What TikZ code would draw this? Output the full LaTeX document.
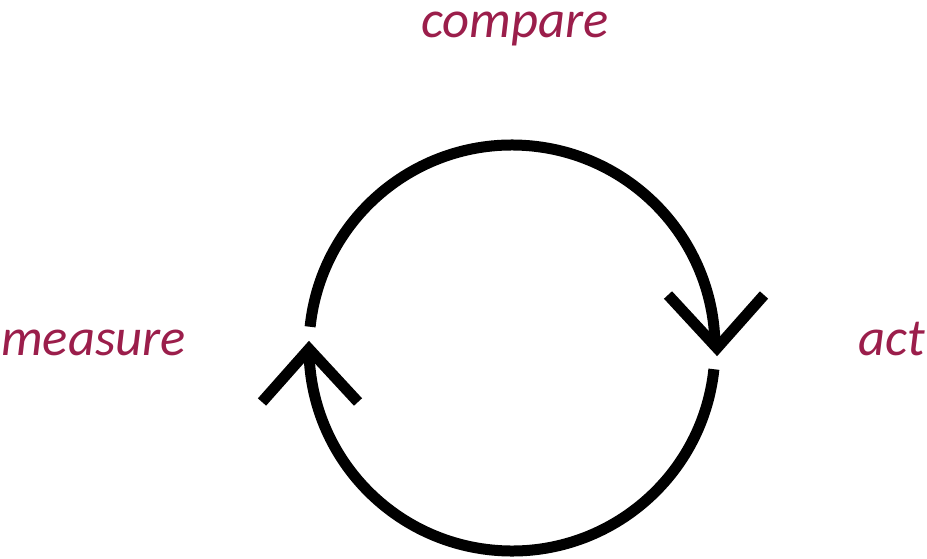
\documentclass[tikz,border=0pt]{standalone}
\usepackage{fontspec}
\setmainfont{Carlito}
\definecolor{labelred}{RGB}{155,30,75}
\begin{document}
\begin{tikzpicture}[x=0.75pt,y=0.75pt,
  loopline/.style={line width=8.25pt, line cap=butt},
  chevron/.style={line width=8.25pt, line cap=butt, line join=miter, miter limit=10},
  lbl/.style={font=\fontsize{39.5}{47}\selectfont\itshape, text=labelred, inner sep=0pt}]
\useasboundingbox (0,0) rectangle (927,558);
\coordinate (c) at (512,210);
% upper arc
\coordinate (ustart) at ([shift={(c)}]174:152.25pt);
\draw[loopline] (ustart) arc[start angle=174, end angle=0, radius=152.25pt];
% lower arc
\coordinate (lstart) at ([shift={(c)}]-6:152.25pt);
\draw[loopline] (lstart) arc[start angle=-6, end angle=-180, radius=152.25pt];
% arrow heads
\coordinate (rtip) at (717,210);
\coordinate (ra) at (668,263);
\coordinate (rb) at (764,263);
\draw[chevron] (ra) -- (rtip) -- (rb);
\coordinate (ltip) at (309,209);
\coordinate (la) at (262,156);
\coordinate (lb) at (358,156);
\draw[chevron] (la) -- (ltip) -- (lb);
% labels
\node[lbl, anchor=base] (compare) at (515,520) {compare};
\node[lbl, anchor=base west] (measure) at (1,203) {measure};
\node[lbl, anchor=base east] (act) at (925,203) {act};
\end{tikzpicture}
\end{document}
